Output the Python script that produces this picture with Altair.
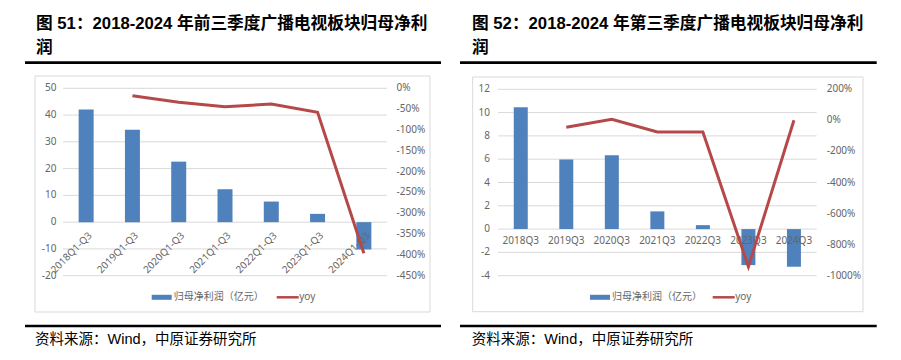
import altair as alt
import pandas as pd

# ---------------- data ----------------
cats_L = ["2018Q1-Q3", "2019Q1-Q3", "2020Q1-Q3", "2021Q1-Q3", "2022Q1-Q3", "2023Q1-Q3", "2024Q1-Q3"]
profit_L = [42.1, 34.5, 22.6, 12.3, 7.7, 3.1, -10.2]
yoy_L = [None, -17.8, -33.6, -44.2, -37.7, -57.6, -396.0]
left_ticks_L = [-20, -10, 0, 10, 20, 30, 40, 50]
right_ticks_L = [-450, -400, -350, -300, -250, -200, -150, -100, -50, 0]

cats_R = ["2018Q3", "2019Q3", "2020Q3", "2021Q3", "2022Q3", "2023Q3", "2024Q3"]
profit_R = [10.45, 5.98, 6.33, 1.52, 0.34, -3.09, -3.23]
yoy_R = [None, -44.7, 7.0, -75.0, -75.5, -942.0, 1.0]
left_ticks_R = [-4, -2, 0, 2, 4, 6, 8, 10, 12]
right_ticks_R = [-1000, -800, -600, -400, -200, 0, 200]

title_L1 = "图 51：2018-2024 年前三季度广播电视板块归母净利"
title_R1 = "图 52：2018-2024 年第三季度广播电视板块归母净利"
title_2 = "润"
legend_bar = "归母净利润（亿元）"
legend_line = "yoy"
source = "资料来源：Wind，中原证券研究所"

BLUE = "#4f81bd"
RED = "#b5494a"
GRID = "#d9d9d9"
GRAY = "#666666"
NUMFONT = "Noto Sans, Noto Sans CJK SC"
TITLEFONT = "Liberation Sans, Noto Sans CJK SC"

one = pd.DataFrame({"a": [0]})


def deco_text(txt, x, y, **kw):
    return alt.Chart(one).mark_text(text=txt, **kw).encode(x=alt.value(x), y=alt.value(y))


def deco_rule(x1, x2, y, color, width):
    return alt.Chart(one).mark_rule(color=color, strokeWidth=width).encode(
        x=alt.value(x1), x2=alt.value(x2), y=alt.value(y))


def panel(cats, profit, yoy, lticks, rticks, g):
    df = pd.DataFrame({"cat": cats, "profit": profit, "yoy": yoy})
    dline = df.dropna(subset=["yoy"])
    p = g["pad"]
    xs = alt.Scale(domain=cats, range=[g["x0"], g["x1"]], paddingInner=p, paddingOuter=p / 2)
    yl = alt.Scale(domain=[min(lticks), max(lticks)], range=[g["yb"], g["yt"]], nice=False, zero=False)
    yr = alt.Scale(domain=[min(rticks), max(rticks)], range=[g["yb"], g["yt"]], nice=False, zero=False)
    X = alt.X("cat:N", scale=xs, axis=None, sort=cats)

    lt = pd.DataFrame({"v": lticks, "t": [str(v) for v in lticks]})
    rt = pd.DataFrame({"v": rticks, "t": [f"{v}%" for v in rticks]})

    layers = []
    # border box
    layers.append(alt.Chart(one).mark_rect(fillOpacity=0, stroke=GRID, strokeWidth=1).encode(
        x=alt.value(g["bx0"]), x2=alt.value(g["bx1"]), y=alt.value(g["by0"]), y2=alt.value(g["by1"])))
    # gridlines
    layers.append(alt.Chart(lt).mark_rule(color=GRID, strokeWidth=1).encode(
        y=alt.Y("v:Q", scale=yl, axis=None), x=alt.value(g["x0"]), x2=alt.value(g["x1"])))
    # left tick labels
    layers.append(alt.Chart(lt).mark_text(align="right", baseline="middle", fontSize=10, color=GRAY,
                                          font=NUMFONT).encode(
        y=alt.Y("v:Q", scale=yl, axis=None), x=alt.value(g["llx"]), text="t:N"))
    # right tick labels
    layers.append(alt.Chart(rt).mark_text(align="left", baseline="middle", fontSize=10, color=GRAY,
                                          font=NUMFONT).encode(
        y=alt.Y("v:Q", scale=yr, axis=None), x=alt.value(g["rlx"]), text="t:N"))
    # bars
    layers.append(alt.Chart(df).mark_bar(color=BLUE).encode(
        x=X, y=alt.Y("profit:Q", scale=yl, axis=None), y2=alt.datum(0)))
    # category labels
    if g["rot"]:
        layers.append(alt.Chart(df).mark_text(angle=315, align="right", baseline="middle", fontSize=10,
                                              color=GRAY, font=NUMFONT, dx=3, dy=3).encode(
            x=X, y=alt.value(g["cly"]), text="cat:N"))
    else:
        layers.append(alt.Chart(df).mark_text(align="center", baseline="middle", fontSize=10,
                                              color=GRAY, font=NUMFONT).encode(
            x=X, y=alt.value(g["cly"]), text="cat:N"))
    # yoy line
    layers.append(alt.Chart(dline).mark_line(color=RED, strokeWidth=3).encode(
        x=X, y=alt.Y("yoy:Q", scale=yr, axis=None)))
    # legend
    ly = g["ly"]
    layers.append(alt.Chart(one).mark_rect(color=BLUE).encode(
        x=alt.value(g["lb0"]), x2=alt.value(g["lb0"] + 20), y=alt.value(ly - 2.5), y2=alt.value(ly + 2.5)))
    layers.append(deco_text(legend_bar, g["lb0"] + 22, ly, align="left", baseline="middle", fontSize=10,
                            color=GRAY, font="Noto Sans CJK SC"))
    layers.append(deco_rule(g["lr0"], g["lr0"] + 22, ly, RED, 2.5))
    layers.append(deco_text(legend_line, g["lr0"] + 22.5, ly, align="left", baseline="middle", fontSize=10,
                            color=GRAY, font=NUMFONT))
    # title, rules, source
    layers.append(deco_text(g["title"], g["tx"], 20.5, align="left", baseline="alphabetic", fontSize=16.7,
                            fontWeight="bold", color="#000000", font=TITLEFONT))
    layers.append(deco_text(title_2, g["tx"], 45, align="left", baseline="alphabetic", fontSize=16.7,
                            fontWeight="bold", color="#000000", font=TITLEFONT))
    layers.append(deco_rule(g["rx0"], g["rx1"], 54.7, "#000000", 2.8))
    layers.append(deco_rule(g["rx0"], g["rx1"], 318, "#000000", 2.5))
    layers.append(deco_text(source, g["sx"], 332, align="left", baseline="middle", fontSize=14.5,
                            color="#000000", font=TITLEFONT))
    return layers


gL = dict(x0=55, x1=379, yb=267.7, yt=80.3, pad=0.676, llx=48.5, rlx=388.5, rot=True, cly=226,
          bx0=27, bx1=422, by0=68, by1=304, ly=289.3, lb0=143.7, lr0=268.7,
          title=title_L1, tx=28, rx0=17, rx1=433, sx=27)
gR = dict(x0=490, x1=808.7, yb=267.7, yt=81.3, pad=0.6925, llx=482, rlx=818.7, rot=False, cly=233,
          bx0=464.7, bx1=855, by0=69, by1=303.7, ly=289.3, lb0=582, lr0=704.7,
          title=title_R1, tx=464, rx0=452, rx1=868.7, sx=463.7)

layers = panel(cats_L, profit_L, yoy_L, left_ticks_L, right_ticks_L, gL) + \
         panel(cats_R, profit_R, yoy_R, left_ticks_R, right_ticks_R, gR)

chart = alt.layer(*layers).resolve_scale(x="independent", y="independent").properties(
    width=885, height=340, padding=0, autosize=alt.AutoSizeParams(type="none"),
    background="#ffffff",
).configure_view(stroke="transparent")

chart.save("out.html", embed_options={"renderer": "svg", "actions": False})
